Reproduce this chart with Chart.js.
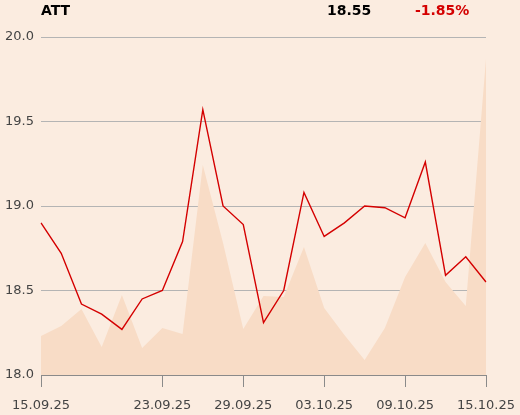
<!DOCTYPE html>
<html><head><meta charset="utf-8">
<script src="https://cdn.jsdelivr.net/npm/chart.js@4/dist/chart.umd.min.js"></script>
<style>
html,body{margin:0;padding:0;background:#fbece0;}
#wrap{position:relative;width:520px;height:415px;}
canvas{position:absolute;left:0;top:0;}
.h{position:absolute;top:1px;font:bold 14px "DejaVu Sans",sans-serif;line-height:18px;}
</style></head>
<body><div id="wrap">
<canvas id="c" width="520" height="415"></canvas>
<div class="h" style="left:41px;color:#000">ATT</div>
<div class="h" style="left:327px;color:#000">18.55</div>
<div class="h" style="left:415px;color:#d40000">-1.85%</div>
</div>
<script>
const dates = ["15.09.25","16.09.25","17.09.25","18.09.25","19.09.25","22.09.25","23.09.25","24.09.25","25.09.25","26.09.25","29.09.25","30.09.25","01.10.25","02.10.25","03.10.25","06.10.25","07.10.25","08.10.25","09.10.25","10.10.25","13.10.25","14.10.25","15.10.25"];
const shownTicks = ["15.09.25","23.09.25","29.09.25","03.10.25","09.10.25","15.10.25"];
const price = [18.90,18.72,18.42,18.36,18.27,18.45,18.50,18.79,19.57,19.00,18.89,18.31,18.50,19.08,18.82,18.90,19.00,18.99,18.93,19.26,18.59,18.70,18.55];
const volume = [39,49,66,28,80,27,47,41,210,132,46,79,78,128,67,40,15,47,98,132,93,69,316];
const yTicks = [18.0,18.5,19.0,19.5,20.0];

new Chart(document.getElementById('c'), {
  data: {
    labels: dates,
    datasets: [
      {type:'line', data: price, yAxisID:'y', borderColor:'#d40000', borderWidth:1.4, pointRadius:0, tension:0, fill:false, order:1},
      {type:'line', data: volume, yAxisID:'v', borderWidth:0, borderColor:'rgba(0,0,0,0)', backgroundColor:'#f8dcc6', pointRadius:0, tension:0, fill:'origin', order:2}
    ]
  },
  options: {
    responsive:false, animation:false,
    layout:{padding:{top:37,right:34,left:0,bottom:0}},
    plugins:{legend:{display:false}, tooltip:{enabled:false}},
    scales:{
      x:{
        offset:false,
        border:{display:true,color:'#8a8a8a',width:1},
        grid:{drawOnChartArea:false, drawTicks:true, tickLength:12,
          color:(ctx)=> (ctx.tick && shownTicks.includes(dates[ctx.index])) ? '#8a8a8a' : 'rgba(0,0,0,0)'},
        ticks:{autoSkip:false, maxRotation:0, padding:11, color:'#444', font:{family:'DejaVu Sans', size:13},
          callback:(v,i)=> shownTicks.includes(dates[i]) ? dates[i] : ''},
        afterFit:(s)=>{s.height=40; s.paddingLeft=0; s.paddingRight=0;}
      },
      y:{
        min:18, max:20,
        afterBuildTicks:(s)=>{s.ticks = yTicks.map(v=>({value:v}));},
        border:{display:false},
        grid:{color:'#b4b4b4', drawTicks:false, lineWidth:1},
        ticks:{padding:7, color:'#444', font:{family:'DejaVu Sans', size:13}, callback:(v)=>Number(v).toFixed(1)},
        afterFit:(s)=>{s.width=41; s.paddingTop=0; s.paddingBottom=0;}
      },
      v:{display:false, min:0, max:338}
    }
  }
});
</script>
</body></html>
